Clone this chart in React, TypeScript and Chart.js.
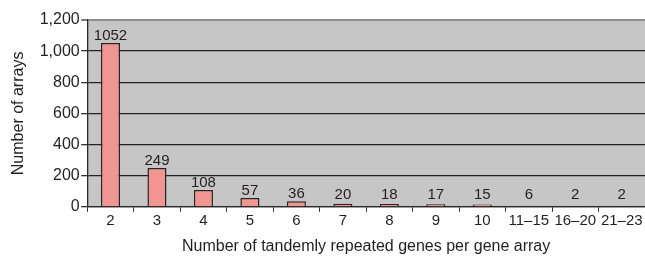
import React, { useEffect, useRef } from "react";
import { Chart, registerables } from "chart.js";

Chart.register(...registerables);

const categories = ["2", "3", "4", "5", "6", "7", "8", "9", "10", "11–15", "16–20", "21–23"];
const counts = [1052, 249, 108, 57, 36, 20, 18, 17, 15, 6, 2, 2];
const yTicks = [0, 200, 400, 600, 800, 1000, 1200];

const FONT = "'Liberation Sans', Arial, sans-serif";
const FS = 16;
const FS_SMALL = 15;

const bgPlugin = {
  id: "plotBg",
  beforeDraw(chart: any) {
    const { ctx, chartArea } = chart;
    ctx.save();
    ctx.fillStyle = "#c6c6c7";
    ctx.fillRect(chartArea.left, chartArea.top, chartArea.right - chartArea.left, chartArea.bottom - chartArea.top);
    ctx.restore();
  },
};

const labelPlugin = {
  id: "valLabels",
  afterDatasetsDraw(chart: any) {
    const { ctx, chartArea } = chart;
    const meta = chart.getDatasetMeta(0);
    ctx.save();
    ctx.fillStyle = "#231f20";
    ctx.font = `${FS_SMALL}px ${FONT}`;
    ctx.textAlign = "center";
    ctx.textBaseline = "alphabetic";
    meta.data.forEach((el: any, i: number) => {
      const y = Math.min(el.y - 2.7, chartArea.bottom - 8);
      ctx.fillText(String(counts[i]), el.x, y);
    });
    ctx.restore();
  },
};

export default function App() {
  const ref = useRef<HTMLCanvasElement>(null);
  useEffect(() => {
    if (!ref.current) return;
    const chart = new Chart(ref.current, {
      type: "bar",
      data: {
        labels: categories,
        datasets: [
          {
            data: counts,
            backgroundColor: "#f19593",
            borderColor: "#2e2222",
            borderWidth: 1.5,
            categoryPercentage: 1,
            barPercentage: 0.41,
          },
        ],
      },
      options: {
        animation: false,
        responsive: false,
        maintainAspectRatio: false,
        layout: { padding: { top: 20, right: 0, left: 9, bottom: 0 } },
        plugins: { legend: { display: false }, tooltip: { enabled: false } },
        scales: {
          x: {
            offset: true,
            grid: {
              offset: true,
              drawOnChartArea: false,
              drawTicks: true,
              tickLength: 5,
              color: "#333",
            },
            border: { color: "#2a2a2a", width: 1.3 },
            ticks: { color: "#231f20", font: { family: FONT, size: FS_SMALL }, padding: 0, maxRotation: 0, autoSkip: false },
            title: {
              display: true,
              text: "Number of tandemly repeated genes per gene array",
              color: "#231f20",
              font: { family: FONT, size: FS },
              padding: { top: 7, bottom: 0 },
            },
          },
          y: {
            min: 0,
            max: 1200,
            afterBuildTicks(axis: any) {
              axis.ticks = yTicks.map((v) => ({ value: v }));
            },
            grid: {
              color: (c: any) => (c.tick && c.tick.value === 1200 ? "#8e8e8e" : "#222"),
              lineWidth: (c: any) => (c.tick && c.tick.value === 1200 ? 2 : 1.3),
              tickLength: 6,
              tickColor: "#333",
              tickWidth: 1.3,
            },
            border: { color: "#2a2a2a", width: 1.3 },
            ticks: {
              color: "#231f20",
              font: { family: FONT, size: FS },
              padding: 1.5,
              callback: (v: any) => Number(v).toLocaleString("en-US"),
            },
            title: {
              display: true,
              text: "Number of arrays",
              color: "#231f20",
              font: { family: FONT, size: FS },
              padding: { top: 0, bottom: 10 },
            },
          },
        },
      },
      plugins: [bgPlugin, labelPlugin],
    });
    return () => chart.destroy();
  }, []);
  return (
    <div style={{ position: "fixed", left: 0, top: 0, width: 645, height: 256, background: "#fff" }}>
      <canvas ref={ref} width={645} height={256} style={{ width: 645, height: 256 }} />
    </div>
  );
}
